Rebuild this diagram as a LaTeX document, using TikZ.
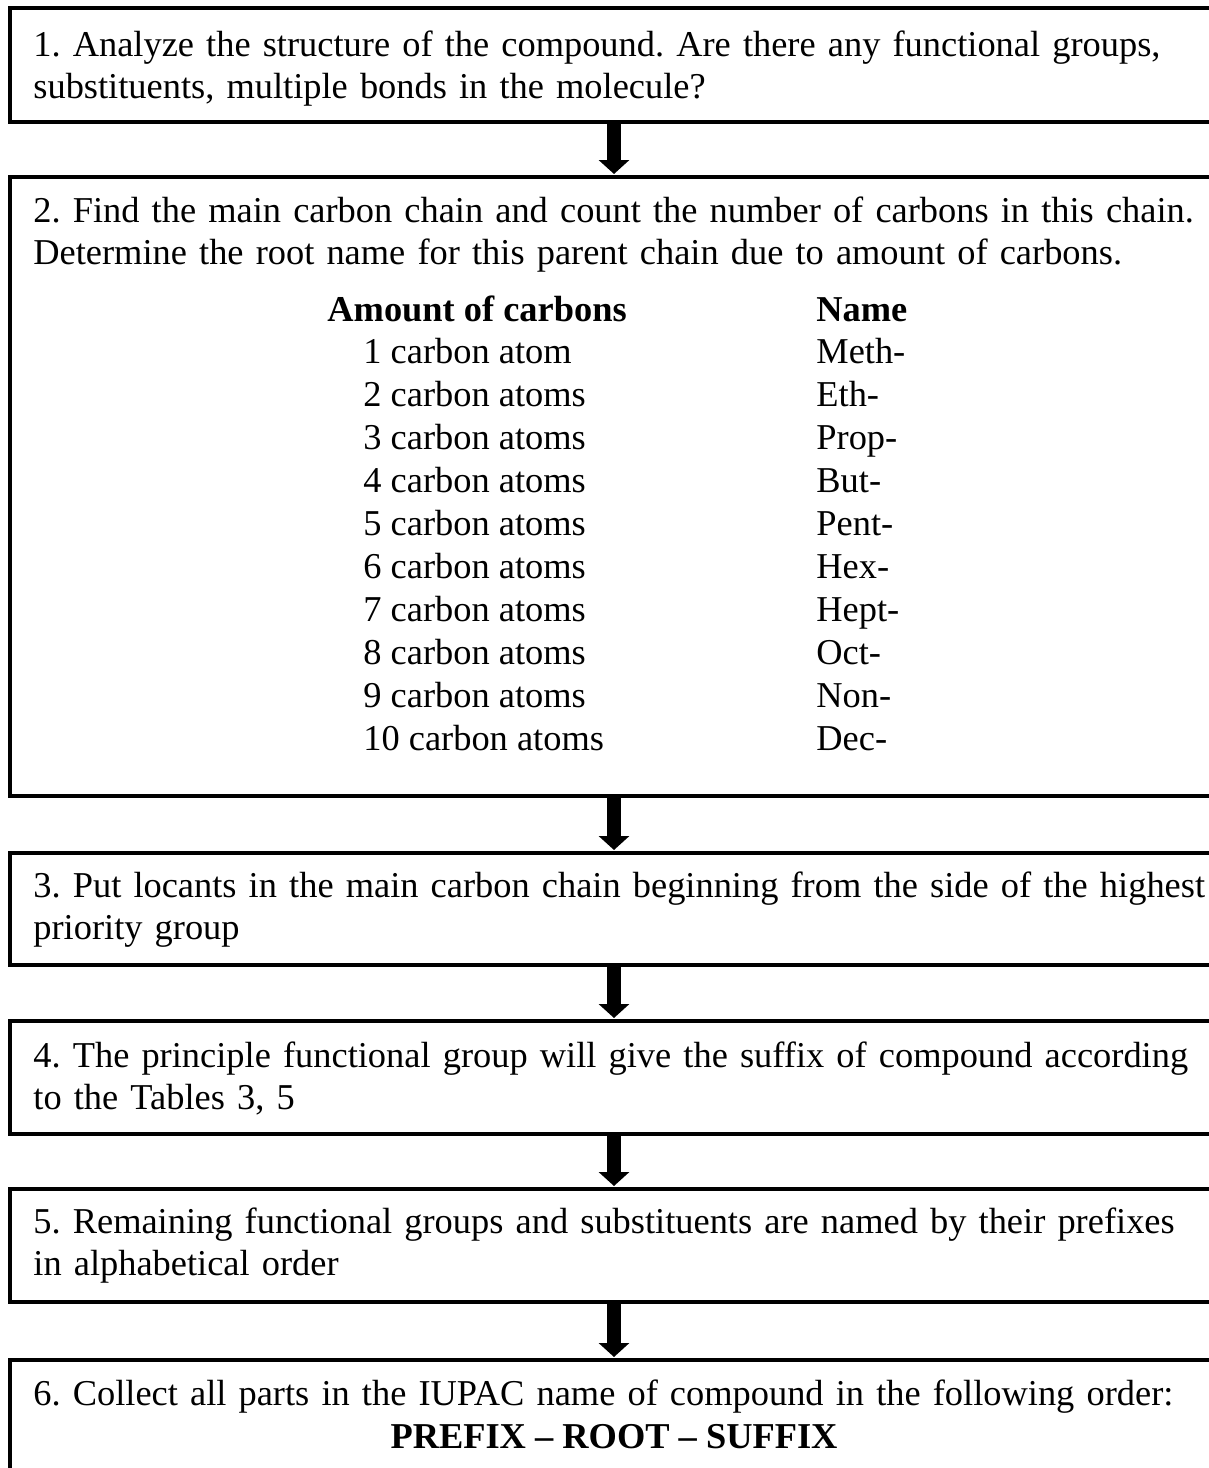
\documentclass[tikz,border=0pt]{standalone}
\usepackage{fontspec}
\setmainfont{Liberation Serif}
\usetikzlibrary{arrows.meta}

\newcommand\stepfont{\fontsize{18.2pt}{21.35pt}\selectfont\frenchspacing}

\tikzset{
    stepbox/.style={draw, line width=1.65pt, minimum width=604pt, anchor=north west, outer sep=0pt, inner sep=0pt},
    steptext/.style={anchor=base west, inner sep=0pt, text width=600pt, align=left, font=\stepfont},
    tabcell/.style={anchor=base west, inner sep=0pt, font=\stepfont},
    flowarrow/.style={line width=7pt, -{Triangle[width=15pt, length=7pt]}, shorten >=1.5pt}
}

\begin{document}
\begin{tikzpicture}[x=0.5pt, y=-0.5pt]
    \useasboundingbox (0,0) rectangle (1209,1468);

    % 1. A dobozok (felulrol lefele)
    \node[stepbox, minimum height=57pt]    (s1) at (10,8)    {};
    \node[stepbox, minimum height=309.5pt] (s2) at (10,177)  {};
    \node[stepbox, minimum height=56pt]    (s3) at (10,853)  {};
    \node[stepbox, minimum height=56.5pt]  (s4) at (10,1021) {};
    \node[stepbox, minimum height=56.5pt]  (s5) at (10,1189) {};
    \node[stepbox, minimum height=60pt]    (s6) at (10,1360) {};

    % 2. A lepesek szovegei
    \node[steptext] (t1) at (33,56) {1. Analyze the structure of the compound. Are there any functional groups,\\ substituents, multiple bonds in the molecule?};
    \node[steptext] (t2) at (33,222) {2. Find the main carbon chain and count the number of carbons in this chain.\\ Determine the root name for this parent chain due to amount of carbons.};
    \node[steptext] (t3) at (33,897) {3. Put locants in the main carbon chain beginning from the side of the highest\\ priority group};
    \node[steptext] (t4) at (33,1067) {4. The principle functional group will give the suffix of compound according\\ to the Tables 3, 5};
    \node[steptext] (t5) at (33,1233) {5. Remaining functional groups and substituents are named by their prefixes\\ in alphabetical order};
    \node[steptext] (t6) at (33,1405) {6. Collect all parts in the IUPAC name of compound in the following order:};
    \node[tabcell, anchor=base] (res) at (614,1448) {\bfseries PREFIX -- ROOT -- SUFFIX};

    % 3. A tablazat a 2. dobozban (fejlec + 10 sor)
    \node[tabcell] (hd-amt) at (327,321) {\bfseries Amount of carbons};
    \node[tabcell] (hd-nm)  at (816,321) {\bfseries Name};
    \foreach \amt/\nm [count=\i] in {1 carbon atom/Meth-, 2 carbon atoms/Eth-, 3 carbon atoms/Prop-,
                                     4 carbon atoms/But-, 5 carbon atoms/Pent-, 6 carbon atoms/Hex-,
                                     7 carbon atoms/Hept-, 8 carbon atoms/Oct-, 9 carbon atoms/Non-,
                                     10 carbon atoms/Dec-} {
        \node[tabcell] (amt-\i) at (363,{321+42.9*\i}) {\amt};
        \node[tabcell] (nm-\i)  at (816,{321+42.9*\i}) {\nm};
    }

    % 4. Nyilak a dobozok kozott
    \draw[flowarrow] (s1.south) -- (s2.north);
    \draw[flowarrow] (s2.south) -- (s3.north);
    \draw[flowarrow] (s3.south) -- (s4.north);
    \draw[flowarrow] (s4.south) -- (s5.north);
    \draw[flowarrow] (s5.south) -- (s6.north);
\end{tikzpicture}
\end{document}
